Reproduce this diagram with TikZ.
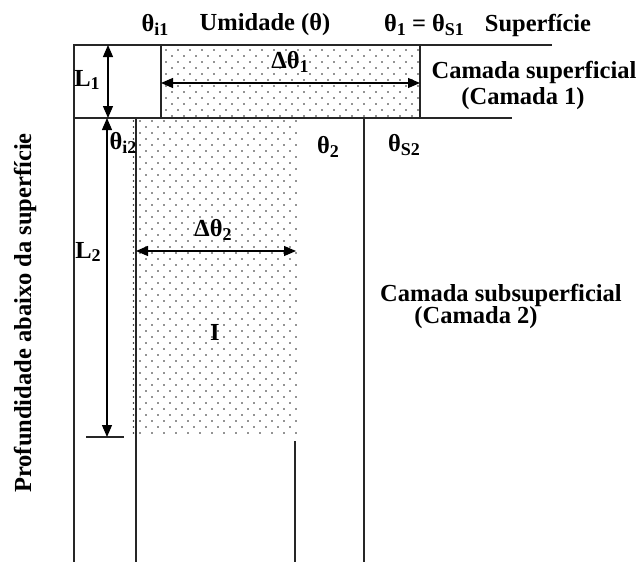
\documentclass[tikz,border=0pt]{standalone}
\usepackage{fontspec}
\setmainfont{Liberation Serif}
\usetikzlibrary{arrows.meta}
\newcommand\lsub[1]{\raisebox{-0.35ex}{\fontsize{18}{18}\selectfont #1}}
\tikzset{
  lbl/.style={font=\fontsize{24.5}{26}\selectfont\bfseries, inner sep=0pt},
  ln/.style={line width=1.3pt, draw=black!85},
  arr/.style={line width=1.2pt, draw=black, {Triangle[length=12pt,width=10pt]}-{Triangle[length=12pt,width=10pt]}},
  dotc/.style={fill=black!85}
}
\begin{document}
\begin{tikzpicture}[x=1pt,y=-1pt]
\useasboundingbox (0,0) rectangle (640,562);
% dotted regions
\begin{scope}
\clip (161,45) rectangle (420,118);
\foreach \j in {0,...,11}{\foreach \i in {0,...,22}{
  \fill[dotc] ({166+12*\i+6*mod(\j,2)},{50+6*\j}) circle (0.85pt);}}
\end{scope}
\begin{scope}
\clip (136,118) rectangle (298,437);
\foreach \j in {0,...,52}{\foreach \i in {0,...,13}{
  \fill[dotc] ({140+12*\i+6*mod(\j,2)},{121+6*\j}) circle (0.85pt);}}
\end{scope}
\foreach \j in {0,...,52}{\fill[dotc] (133.5,{121+6*\j}) circle (0.85pt);}
% lines
\draw[ln] (73,45) -- (552,45);
\draw[ln] (73,118) -- (512,118);
\draw[ln] (74,45) -- (74,562);
\draw[ln] (161,45) -- (161,118);
\draw[ln] (420,45) -- (420,118);
\draw[ln] (136,118) -- (136,562);
\draw[ln] (364,118) -- (364,562);
\draw[ln] (295,441) -- (295,562);
\draw[ln] (86,437) -- (124,437);
% arrow end points
\coordinate (l1t) at (108,45);
\coordinate (l1b) at (108,118);
\coordinate (l2t) at (107,118);
\coordinate (l2b) at (107,437);
\coordinate (d1l) at (161,83);
\coordinate (d1r) at (420,83);
\coordinate (d2l) at (136,251);
\coordinate (d2r) at (296,251);
\draw[arr] (l1t) -- (l1b);
\draw[arr] (l2t) -- (l2b);
\draw[arr] (d1l) -- (d1r);
\draw[arr] (d2l) -- (d2r);
% labels
\node[lbl] (ti1) at (155,25) {θ\lsub{i1}};
\node[lbl] (umid) at (265,25) {Umidade (θ)};
\node[lbl] (ts1) at (424,25) {θ\lsub{1} = θ\lsub{S1}};
\node[lbl] (sup) at (538,25) {Superfície};
\node[lbl] (L1) at (87,80) {L\lsub{1}};
\node[lbl] (dt1) at (290,62) {Δθ\lsub{1}};
\node[lbl] (cs) at (534,72) {Camada superficial};
\node[lbl] (c1) at (523,99) {(Camada 1)};
\node[lbl] (ti2) at (123,143) {θ\lsub{i2}};
\node[lbl] (t2) at (328,147) {θ\lsub{2}};
\node[lbl] (ts2) at (404,145) {θ\lsub{S2}};
\node[lbl] (L2) at (88,252) {L\lsub{2}};
\node[lbl] (dt2) at (213,230) {Δθ\lsub{2}};
\node[lbl] (I) at (215,332) {I};
\node[lbl] (css) at (501,295) {Camada subsuperficial};
\node[lbl] (c2) at (476,318) {(Camada 2)};
\node[lbl, rotate=90] (prof) at (25,313) {Profundidade abaixo da superfície};
\end{tikzpicture}
\end{document}
